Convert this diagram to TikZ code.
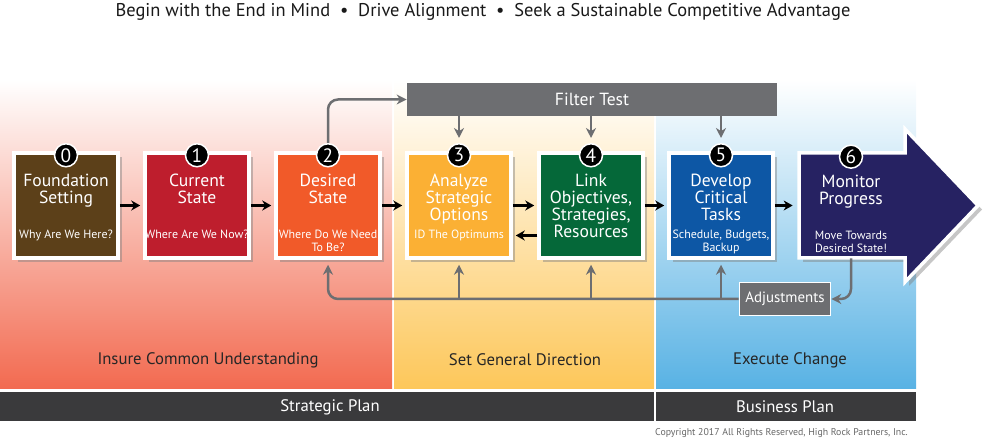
\documentclass[tikz,border=0pt]{standalone}
\usepackage{fontspec}
\setmainfont{PT Sans}
\usetikzlibrary{positioning,calc,arrows.meta,shadows}

\definecolor{brownbox}{HTML}{5C4019}
\definecolor{redbox}{HTML}{BE1E2D}
\definecolor{orangebox}{HTML}{F15A29}
\definecolor{yellowbox}{HTML}{FBB034}
\definecolor{greenbox}{HTML}{056839}
\definecolor{bluebox}{HTML}{0D57A5}
\definecolor{navybox}{HTML}{262262}
\definecolor{filtergray}{HTML}{6D6E71}
\definecolor{bardark}{HTML}{3A3A3C}
\definecolor{redband}{HTML}{F26A50}
\definecolor{redmid}{HTML}{F7B3A1}
\definecolor{yellowband}{HTML}{FDC75A}
\definecolor{yellowmid}{HTML}{FEE0A8}
\definecolor{blueband}{HTML}{58B2E4}
\definecolor{bluemid}{HTML}{A8D4F0}

\begin{document}
\begin{tikzpicture}[x=0.2mm,y=-0.2mm,
  stage/.style={rectangle,draw=white,line width=0.7mm,minimum width=20.8mm,minimum height=21mm,
    drop shadow={opacity=0.45,shadow xshift=0.8mm,shadow yshift=-0.8mm}},
  ttl/.style={text=white,align=center,font=\fontsize{10}{9.6}\selectfont,inner sep=0pt},
  sub/.style={text=white,align=center,font=\fontsize{6.8}{7.4}\selectfont,inner sep=0pt},
  num/.style={circle,fill=black,draw=white,line width=0.3mm,minimum size=4.6mm,inner sep=0pt,
    text=white,font=\fontsize{11}{11}\selectfont},
  blk/.style={-{Stealth[length=1.8mm,width=2mm]},line width=0.45mm,shorten >=0.6mm},
  gry/.style={filtergray,line width=0.5mm,-{Stealth[length=2mm,width=2mm]}},
  band/.style={font=\fontsize{9.5}{10}\selectfont,text=black!85},
  plan/.style={font=\fontsize{9.5}{10}\selectfont,text=white}
]
\useasboundingbox (0,0) rectangle (1000,440);

\shade[top color=white,middle color=redmid,bottom color=redband] (0,80) rectangle (392,389);
\shade[top color=white,middle color=yellowmid,bottom color=yellowband] (394,80) rectangle (654,389);
\shade[top color=white,middle color=bluemid,bottom color=blueband] (656,80) rectangle (916,389);
\fill[bardark] (0,392) rectangle (654,421);
\fill[bardark] (656,392) rectangle (916,421);

\node[font=\fontsize{10.5}{12}\selectfont,text=black!90] (motto) at (483,12)
  {Begin with the End in Mind\ \ \textbullet\ \ Drive Alignment\ \ \textbullet\ \ Seek a Sustainable Competitive Advantage};

\node[band] (understand) at (208,360) {Insure Common Understanding};
\node[band] (direction) at (525,360) {Set General Direction};
\node[band] (execute) at (790,360) {Execute Change};
\node[plan] (strategic) at (330,407) {Strategic Plan};
\node[plan] (business) at (785,407) {Business Plan};
\node[anchor=east,text=black!60,font=\fontsize{5.6}{6}\selectfont] (copy) at (914,433)
  {Copyright 2017 All Rights Reserved, High Rock Partners, Inc.};

\node[fill=filtergray,minimum width=74mm,minimum height=6.6mm,text=white,
  font=\fontsize{10}{10}\selectfont] (filter) at (592,99.5) {Filter Test};

\node[stage,fill=brownbox] (box0) at (66,205.5) {};
\node[stage,fill=redbox] (box1) at (197,205.5) {};
\node[stage,fill=orangebox] (box2) at (328,205.5) {};
\node[stage,fill=yellowbox] (box3) at (459,205.5) {};
\node[stage,fill=greenbox] (box4) at (591,205.5) {};
\node[stage,fill=bluebox] (box5) at (721,205.5) {};
\path[draw=white,line width=0.7mm,fill=navybox,
  drop shadow={opacity=0.45,shadow xshift=0.8mm,shadow yshift=-0.8mm}]
  (799,153) -- (905,153) -- (905,129) -- (978,205.5) -- (905,282) -- (905,258) -- (799,258) -- cycle;
\node[rectangle,minimum width=20.8mm,minimum height=21mm] (box6) at (851,205.5) {};

\node[ttl,below=4.5mm of box0.north] (t0) {Foundation\\Setting};
\node[ttl,below=4.5mm of box1.north] (t1) {Current\\State};
\node[ttl,below=4.5mm of box2.north] (t2) {Desired\\State};
\node[ttl,below=4.5mm of box3.north] (t3) {Analyze\\Strategic\\Options};
\node[ttl,below=4.5mm of box4.north] (t4) {Link\\Objectives,\\Strategies,\\Resources};
\node[ttl,below=4.5mm of box5.north] (t5) {Develop\\Critical\\Tasks};
\node[ttl,below=4.5mm of box6.north] (t6) {Monitor\\Progress};

\node[sub,below=15.6mm of box0.north] (s0) {Why Are We Here?};
\node[sub,below=15.6mm of box1.north] (s1) {Where Are We Now?};
\node[sub,below=15.6mm of box2.north] (s2) {Where Do We Need\\To Be?};
\node[sub,below=15.6mm of box3.north] (s3) {ID The Optimums};
\node[sub,below=15.6mm of box5.north] (s5) {Schedule, Budgets,\\Backup};
\node[sub,below=15.6mm of box6.north] (s6) {Move Towards\\Desired State!};

\foreach \i in {0,...,6}
  \node[num,yshift=-0.8mm] (n\i) at (box\i.north) {\i};

\draw[blk] (box0) -- (box1);
\draw[blk] (box1) -- (box2);
\draw[blk] (box2) -- (box3);
\draw[blk] (box3) -- (box4);
\draw[blk] ($(box4.west)+(0,30)$) -- ($(box3.east)+(0,30)$);
\draw[blk] (box4) -- (box5);
\draw[blk,shorten >=1.2mm] (box5) -- (box6);

\draw[gry,rounded corners=2mm] (n2.north) |- (filter.west);
\foreach \i in {3,4,5}
  \draw[gry,shorten >=1mm] (filter.south -| n\i.north) -- (n\i.north);

\node[fill=filtergray,draw=white,line width=0.3mm,minimum width=17.2mm,minimum height=6.6mm,
  text=white,font=\fontsize{8.5}{9}\selectfont] (adjust) at (785,299) {Adjustments};
\draw[gry,rounded corners=2mm] (box6.south) |- (adjust.east);
\draw[gry,rounded corners=2mm,shorten >=1mm] (adjust.west) -| (box2.south);
\foreach \i in {3,4,5}
  \draw[gry,shorten >=1mm] (adjust.west -| box\i.south) -- (box\i.south);
\end{tikzpicture}
\end{document}
